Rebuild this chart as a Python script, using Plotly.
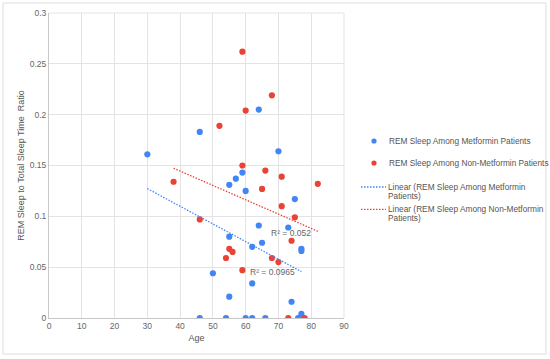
import plotly.graph_objects as go

# Data
met_age = [30, 46, 64, 70, 59, 57, 55, 60, 75, 64, 73, 55, 65, 62, 77, 77, 50, 62, 55, 74, 77,
           46, 54, 60, 62, 66, 76, 77]
met_ratio = [0.161, 0.183, 0.205, 0.164, 0.143, 0.137, 0.131, 0.125, 0.117, 0.091, 0.089, 0.080,
             0.074, 0.070, 0.068, 0.066, 0.044, 0.034, 0.021, 0.016, 0.004,
             0, 0, 0, 0, 0, 0, 0]
non_age = [38, 59, 68, 60, 52, 59, 66, 71, 82, 65, 71, 75, 46, 74, 55, 56, 54, 68, 70, 59, 73, 78]
non_ratio = [0.134, 0.262, 0.219, 0.204, 0.189, 0.150, 0.145, 0.139, 0.132, 0.127, 0.110, 0.099,
             0.097, 0.076, 0.068, 0.065, 0.059, 0.059, 0.055, 0.047, 0, 0]

# Linear trendlines as shown in the reference (endpoints)
trend_met_x = [30, 77]
trend_met_y = [0.1273, 0.0456]
trend_non_x = [38, 82]
trend_non_y = [0.1473, 0.0853]

series_names = ["REM Sleep Among Metformin Patients", "REM Sleep Among Non-Metformin Patients"]
trend_lines = [["Linear (REM Sleep Among Metformin", "Patients)"],
               ["Linear (REM Sleep Among Non-Metformin", "Patients)"]]
r2_labels = ["R² = 0.0965", "R² = 0.052"]
x_ticks = [0, 10, 20, 30, 40, 50, 60, 70, 80, 90]
y_ticks = [0, 0.05, 0.1, 0.15, 0.2, 0.25, 0.3]
y_tick_text = ["0", "0.05", "0.1", "0.15", "0.2", "0.25", "0.3"]

BLUE = "#4285F4"
RED = "#EA4335"
FONT = "Liberation Sans, Arial, sans-serif"
DOT = "1.5px,1.5px"

W, H = 550, 359
ML, MR, MT, MB = 49, 206, 13, 41
PW, PH = W - ML - MR, H - MT - MB


def px_x(p):
    return (p - ML) / PW


def px_y(p):
    return (H - MB - p) / PH


fig = go.Figure()
fig.add_trace(go.Scatter(x=met_age, y=met_ratio, mode="markers", name=series_names[0],
                         marker=dict(color=BLUE, size=6.2)))
fig.add_trace(go.Scatter(x=non_age, y=non_ratio, mode="markers", name=series_names[1],
                         marker=dict(color=RED, size=6.2)))
fig.add_trace(go.Scatter(x=trend_met_x, y=trend_met_y, mode="lines", name=" ".join(trend_lines[0]),
                         line=dict(color=BLUE, width=1.3, dash=DOT)))
fig.add_trace(go.Scatter(x=trend_non_x, y=trend_non_y, mode="lines", name=" ".join(trend_lines[1]),
                         line=dict(color=RED, width=1.3, dash=DOT)))

fig.add_annotation(x=68.1, y=0.0456, text=r2_labels[0], showarrow=False,
                   font=dict(size=8.5, color="#666666", family=FONT))
fig.add_annotation(x=73.9, y=0.084, text=r2_labels[1], showarrow=False,
                   font=dict(size=8.5, color="#666666", family=FONT))

# outer chart border
fig.add_shape(type="rect", xref="paper", yref="paper", x0=px_x(3), x1=px_x(546),
              y0=px_y(354), y1=px_y(3),
              line=dict(color="#dddddd", width=1), fillcolor="rgba(0,0,0,0)", layer="below")

# manual legend (Google-Sheets style)
LEG_TEXT_X = 387
leg_font = dict(size=8.3, color="#555555", family=FONT)
for name, col, yy in [(series_names[0], BLUE, 141), (series_names[1], RED, 163)]:
    r = 2.6
    fig.add_shape(type="circle", xref="paper", yref="paper",
                  x0=px_x(374 - r), x1=px_x(374 + r), y0=px_y(yy + r), y1=px_y(yy - r),
                  fillcolor=col, line=dict(color=col, width=0))
    fig.add_annotation(xref="paper", yref="paper", x=px_x(LEG_TEXT_X), y=px_y(yy), text=name,
                       showarrow=False, xanchor="left", yanchor="middle", font=leg_font)
for lines, col, yy in [(trend_lines[0], BLUE, 187), (trend_lines[1], RED, 209.3)]:
    fig.add_shape(type="line", xref="paper", yref="paper", x0=px_x(361), x1=px_x(386),
                  y0=px_y(yy), y1=px_y(yy), line=dict(color=col, width=1.3, dash=DOT))
    for i, t in enumerate(lines):
        fig.add_annotation(xref="paper", yref="paper", x=px_x(LEG_TEXT_X - 1), y=px_y(yy + 8.5 * i),
                           text=t, showarrow=False, xanchor="left", yanchor="middle",
                           font=leg_font)

fig.update_layout(
    width=W, height=H,
    margin=dict(l=ML, r=MR, t=MT, b=MB, autoexpand=False),
    paper_bgcolor="white", plot_bgcolor="white",
    font=dict(family=FONT, size=8.5, color="#666666"),
    showlegend=False,
    xaxis=dict(range=[0, 90], tickvals=x_ticks, showgrid=True, gridcolor="#e3e3e3",
               gridwidth=1, zeroline=False, showline=True, linecolor="#c8c8c8", ticks="",
               automargin=False,
               title=dict(text="Age", font=dict(size=9, color="#555555"), standoff=4),
               tickfont=dict(size=8.5, color="#666666")),
    yaxis=dict(range=[0, 0.3], tickvals=y_ticks, ticktext=y_tick_text, showgrid=True,
               gridcolor="#e3e3e3", gridwidth=1, zeroline=False, showline=True,
               linecolor="#c8c8c8", ticks="", automargin=False,
               title=dict(text="REM Sleep to Total Sleep Time  Ratio",
                          font=dict(size=9, color="#555555"), standoff=3),
               tickfont=dict(size=8.5, color="#666666")),
)
# top/right grid lines at range ends
fig.add_shape(type="line", xref="paper", yref="paper", x0=0, x1=1, y0=1, y1=1,
              line=dict(color="#e3e3e3", width=1), layer="below")
fig.add_shape(type="line", xref="paper", yref="paper", x0=1, x1=1, y0=0, y1=1,
              line=dict(color="#e3e3e3", width=1), layer="below")

fig.write_html("out.html", config={"displayModeBar": False},
               post_script="document.body.style.margin='0';")
